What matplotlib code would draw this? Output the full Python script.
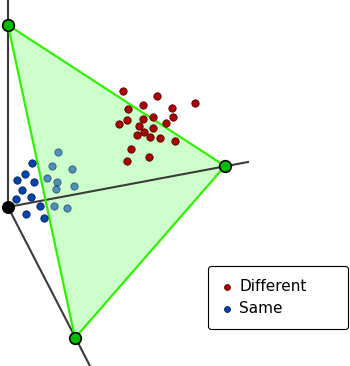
import matplotlib
matplotlib.use('Agg')
import matplotlib.pyplot as plt
from matplotlib.patches import Polygon

# coordenadas en pixeles de la imagen (y hacia abajo)
origin = (8, 207)
axis_ends_x = [8, 248, 90]
axis_ends_y = [0, 162, 366]

tri_x = [8, 225, 75]
tri_y = [25, 166, 338]

diff_x = [123, 157, 143, 128, 172, 195, 173, 153, 143, 127, 166, 119, 139, 153,
          144, 137, 150, 160, 175, 131, 127, 149]
diff_y = [91, 96, 105, 109, 108, 103, 117, 117, 119, 120, 123, 124, 126, 128,
          132, 135, 137, 138, 141, 149, 161, 157]

# puntos "Same" delante del plano
same_near_x = [32, 25, 17, 34, 22, 16, 31, 40, 26, 44]
same_near_y = [163, 174, 180, 182, 190, 199, 197, 206, 214, 218]
# puntos "Same" detras del plano
same_far_x = [58, 52, 72, 47, 57, 74, 56, 54, 67]
same_far_y = [152, 166, 169, 178, 182, 186, 189, 206, 208]

fig = plt.figure(figsize=(3.5, 3.66), dpi=100)
ax = fig.add_axes([0, 0, 1, 1])
ax.set_xlim(0, 350)
ax.set_ylim(366, 0)
ax.axis('off')

tri = Polygon(list(zip(tri_x, tri_y)), closed=True, facecolor='#00ff00',
              alpha=0.2, edgecolor='none', zorder=2)
ax.add_patch(tri)

# ejes
for ex, ey in zip(axis_ends_x, axis_ends_y):
    ax.plot([origin[0], ex], [origin[1], ey], color='#3a3a3a', lw=1.5, zorder=3)

ax.add_patch(Polygon(list(zip(tri_x, tri_y)), closed=True, fill=False,
                     edgecolor='#33f000', lw=1.6, zorder=4))

# puntos lejanos se ven mas claros
ax.scatter(same_far_x, same_far_y, s=28, color='#0044aa', edgecolor='#002255',
           linewidth=0.6, alpha=0.6, zorder=4.5)

ax.scatter(same_near_x, same_near_y, s=28, color='#0044aa', edgecolor='#002255',
           linewidth=0.6, zorder=5, label='Same')
ax.scatter(diff_x, diff_y, s=28, color='#aa0000', edgecolor='#550000',
           linewidth=0.6, zorder=5, label='Different')

ax.scatter(tri_x, tri_y, s=70, color='#00bb00', edgecolor='black',
           linewidth=1.2, zorder=6)
ax.scatter([origin[0]], [origin[1]], s=70, color='black', zorder=6)

handles, labels = ax.get_legend_handles_labels()
leg = ax.legend(handles[::-1], labels[::-1], loc='upper left', mode='expand',
                bbox_to_anchor=(208 / 350, 1 - 266 / 366, 140 / 350, 0),
                borderaxespad=0, fontsize=11, markerscale=0.8,
                handletextpad=0.4, handlelength=0.8, borderpad=0.85,
                labelspacing=0.45, framealpha=1, edgecolor='black',
                fancybox=True)
leg.get_frame().set_linewidth(0.8)

fig.savefig('out.png', dpi=100)
